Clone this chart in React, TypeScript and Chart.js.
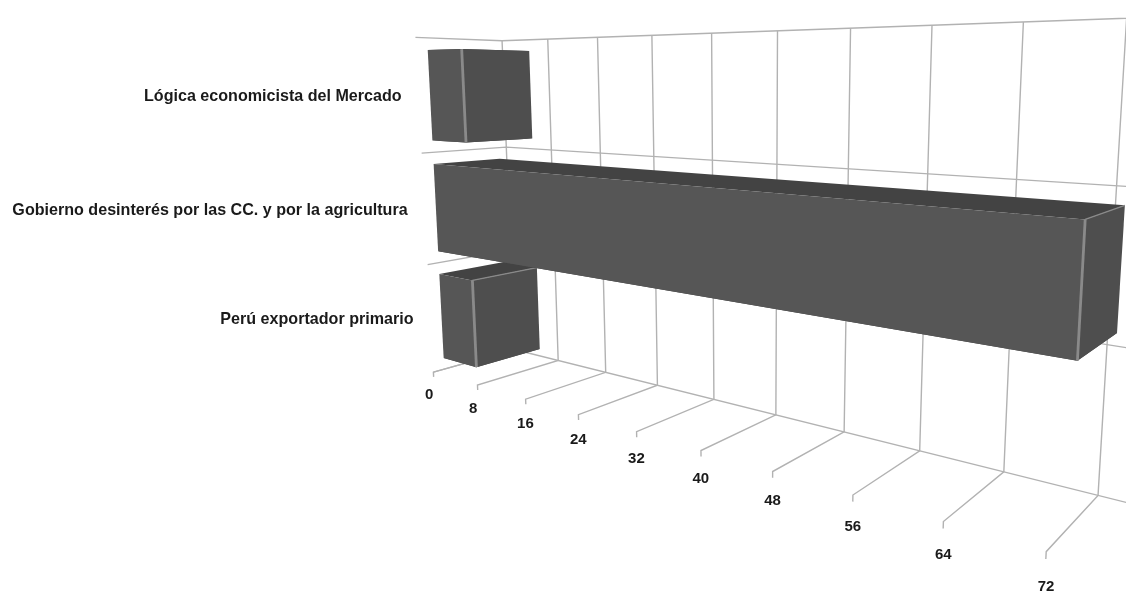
import React, { useEffect, useRef } from "react";
import { Chart, registerables } from "chart.js";

Chart.register(...registerables);

const categories = [
  "Lógica economicista del Mercado",
  "Gobierno desinterés por las CC. y por la agricultura",
  "Perú exportador primario",
];
const seriesValues = [6, 73, 6];
const axisMax = 80;
const axisStep = 8;
const paintOrder = [0, 2, 1];

// Camera calibration: [axis value, category band edge, depth, screen x, screen y]
const cameraAnchors: number[][] = [
  [0, 0, 0, 503, 42], [0, 1, 0, 507.5, 147], [0, 2, 0, 510, 248], [0, 3, 0, 513, 350],
  [72, 0, 0, 1126, 18], [72, 1, 0, 1117, 185], [72, 2, 0, 1107, 343], [72, 3, 0, 1098, 497],
  [32, 0, 0, 713, 33], [32, 3, 0, 714, 399],
  [0, 0, 1, 414, 38], [0, 1, 1, 420, 153], [0, 2, 1, 427, 265], [0, 3, 1, 434, 372],
  [72, 3, 1, 1046, 552], [32, 3, 1, 637, 432], [8, 3, 1, 479, 384], [64, 3, 1, 943, 521],
  [64, 3, 0, 1003, 472], [16, 3, 1, 527, 399], [16, 3, 0, 605, 373], [48, 3, 1, 773, 472],
  [48, 3, 0, 844, 433],
];

function solveCamera(): number[] {
  const n = 11;
  const A = Array.from({ length: n }, () => new Array(n + 1).fill(0));
  const add = (r: number[], b: number) => {
    for (let i = 0; i < n; i++) {
      for (let j = 0; j < n; j++) A[i][j] += r[i] * r[j];
      A[i][n] += r[i] * b;
    }
  };
  for (const [a, c, z, sx, sy] of cameraAnchors) {
    const X = a / axisMax, Y = c / 3, u = sx / 1000, v = sy / 1000;
    add([X, Y, z, 1, 0, 0, 0, 0, -u * X, -u * Y, -u * z], u);
    add([0, 0, 0, 0, X, Y, z, 1, -v * X, -v * Y, -v * z], v);
  }
  for (let i = 0; i < n; i++) {
    let m = i;
    for (let k = i + 1; k < n; k++) if (Math.abs(A[k][i]) > Math.abs(A[m][i])) m = k;
    [A[i], A[m]] = [A[m], A[i]];
    for (let k = 0; k < n; k++) {
      if (k === i) continue;
      const f = A[k][i] / A[i][i];
      for (let j = i; j <= n; j++) A[k][j] -= f * A[i][j];
    }
  }
  return A.map((row, i) => row[n] / row[i]);
}
const cam = solveCamera();

type Pt = [number, number];
function project(value: number, band: number, depth: number): Pt {
  const X = value / axisMax, Y = band / 3;
  const w = cam[8] * X + cam[9] * Y + cam[10] * depth + 1;
  return [
    (1000 * (cam[0] * X + cam[1] * Y + cam[2] * depth + cam[3])) / w,
    (1000 * (cam[4] * X + cam[5] * Y + cam[6] * depth + cam[7])) / w,
  ];
}

const GRID = "#b2b2b2";
const FRONT = "#565656";
const SIDE = "#4e4e4e";
const TOP = "#434343";
const EDGE = "#8a8a8a";
const LABEL_FONT = 'bold 16.1px "Liberation Sans", Arial, sans-serif';
const TICK_FONT = 'bold 15px "Liberation Sans", Arial, sans-serif';
const TEXT = "#1a1a1a";
const BAR_BACK = 0.09;
const BAR_FRONT = 0.875;

function line(ctx: CanvasRenderingContext2D, pts: Pt[]) {
  ctx.beginPath();
  pts.forEach((p, i) => (i ? ctx.lineTo(p[0], p[1]) : ctx.moveTo(p[0], p[1])));
  ctx.stroke();
}
function face(ctx: CanvasRenderingContext2D, pts: Pt[], color: string) {
  ctx.fillStyle = color;
  ctx.beginPath();
  pts.forEach((p, i) => (i ? ctx.lineTo(p[0], p[1]) : ctx.moveTo(p[0], p[1])));
  ctx.closePath();
  ctx.fill();
}

const perspectivePlugin = {
  id: "perspective",
  beforeDatasetsDraw(chart: any) {
    const { ctx, scales } = chart;
    const ticks = scales.x.ticks.map((t: any) => t.value);
    ctx.save();
    ctx.strokeStyle = GRID;
    ctx.lineWidth = 1.4;
    for (const t of ticks) {
      line(ctx, [project(t, 0, 0), project(t, 3, 0), project(t, 3, 1), project(t, 3.045, 1)]);
    }
    for (let b = 0; b <= categories.length; b++) {
      line(ctx, [project(0, b, 1), project(0, b, 0), project(axisMax, b, 0)]);
    }
    ctx.fillStyle = TEXT;
    ctx.font = TICK_FONT;
    ctx.textAlign = "left";
    ctx.textBaseline = "middle";
    for (const t of ticks) {
      const anchor = project(t, 3, 1);
      const p = project(t, 3.215, 1);
      ctx.fillText(String(t), anchor[0] - 8.5, p[1]);
    }
    ctx.font = LABEL_FONT;
    ctx.textAlign = "right";
    categories.forEach((label, i) => {
      const p = project(0, i + 0.5, 1);
      ctx.fillText(label, p[0] - 17, p[1] + 0.8);
    });
    ctx.restore();
  },
  beforeDatasetDraw(chart: any, args: any) {
    const { ctx, scales } = chart;
    const elems = chart.getDatasetMeta(args.index).data;
    const band = (px: number) => ((px - scales.y.top) / scales.y.height) * categories.length;
    ctx.save();
    for (const i of paintOrder) {
      const el = elems[i].getProps(["x", "y", "base", "height"], true);
      const v0 = scales.x.getValueForPixel(el.base);
      const v1 = scales.x.getValueForPixel(el.x);
      const b0 = band(el.y - el.height / 2);
      const b1 = band(el.y + el.height / 2);
      const P = (v: number, b: number, z: number) => project(v, b, z);
      face(ctx, [P(v0, b0, BAR_FRONT), P(v1, b0, BAR_FRONT), P(v1, b0, BAR_BACK), P(v0, b0, BAR_BACK)], TOP);
      face(ctx, [P(v0, b1, BAR_FRONT), P(v1, b1, BAR_FRONT), P(v1, b1, BAR_BACK), P(v0, b1, BAR_BACK)], TOP);
      face(ctx, [P(v1, b0, BAR_FRONT), P(v1, b0, BAR_BACK), P(v1, b1, BAR_BACK), P(v1, b1, BAR_FRONT)], SIDE);
      face(ctx, [P(v0, b0, BAR_FRONT), P(v1, b0, BAR_FRONT), P(v1, b1, BAR_FRONT), P(v0, b1, BAR_FRONT)], FRONT);
      ctx.strokeStyle = EDGE;
      if (P(v1, b0, BAR_BACK)[1] < P(v1, b0, BAR_FRONT)[1] - 3) {
        ctx.lineWidth = 1.3;
        line(ctx, [P(v1, b0, BAR_FRONT), P(v1, b0, BAR_BACK)]);
      }
      ctx.lineWidth = 2.8;
      line(ctx, [P(v1, b0, BAR_FRONT), P(v1, b1, BAR_FRONT)]);
    }
    ctx.restore();
    return false;
  },
};

export default function App() {
  const ref = useRef<HTMLCanvasElement>(null);
  useEffect(() => {
    const chart = new Chart(ref.current as HTMLCanvasElement, {
      type: "bar",
      data: {
        labels: categories,
        datasets: [
          { label: "Valor", data: seriesValues, backgroundColor: FRONT, categoryPercentage: 1, barPercentage: 0.79 },
        ],
      },
      options: {
        indexAxis: "y",
        responsive: false,
        animation: false,
        layout: { padding: 0 },
        plugins: { legend: { display: false }, tooltip: { enabled: false }, title: { display: false } },
        scales: {
          x: { display: false, min: 0, max: axisMax, ticks: { stepSize: axisStep } },
          y: { display: false },
        },
      },
      plugins: [perspectivePlugin],
    } as any);
    return () => chart.destroy();
  }, []);
  return (
    <div style={{ position: "absolute", left: 0, top: 0, width: 1126, height: 592, overflow: "hidden", background: "#fff" }}>
      <canvas ref={ref} width={1126} height={592} style={{ display: "block", filter: "blur(0.45px)" }} />
    </div>
  );
}
